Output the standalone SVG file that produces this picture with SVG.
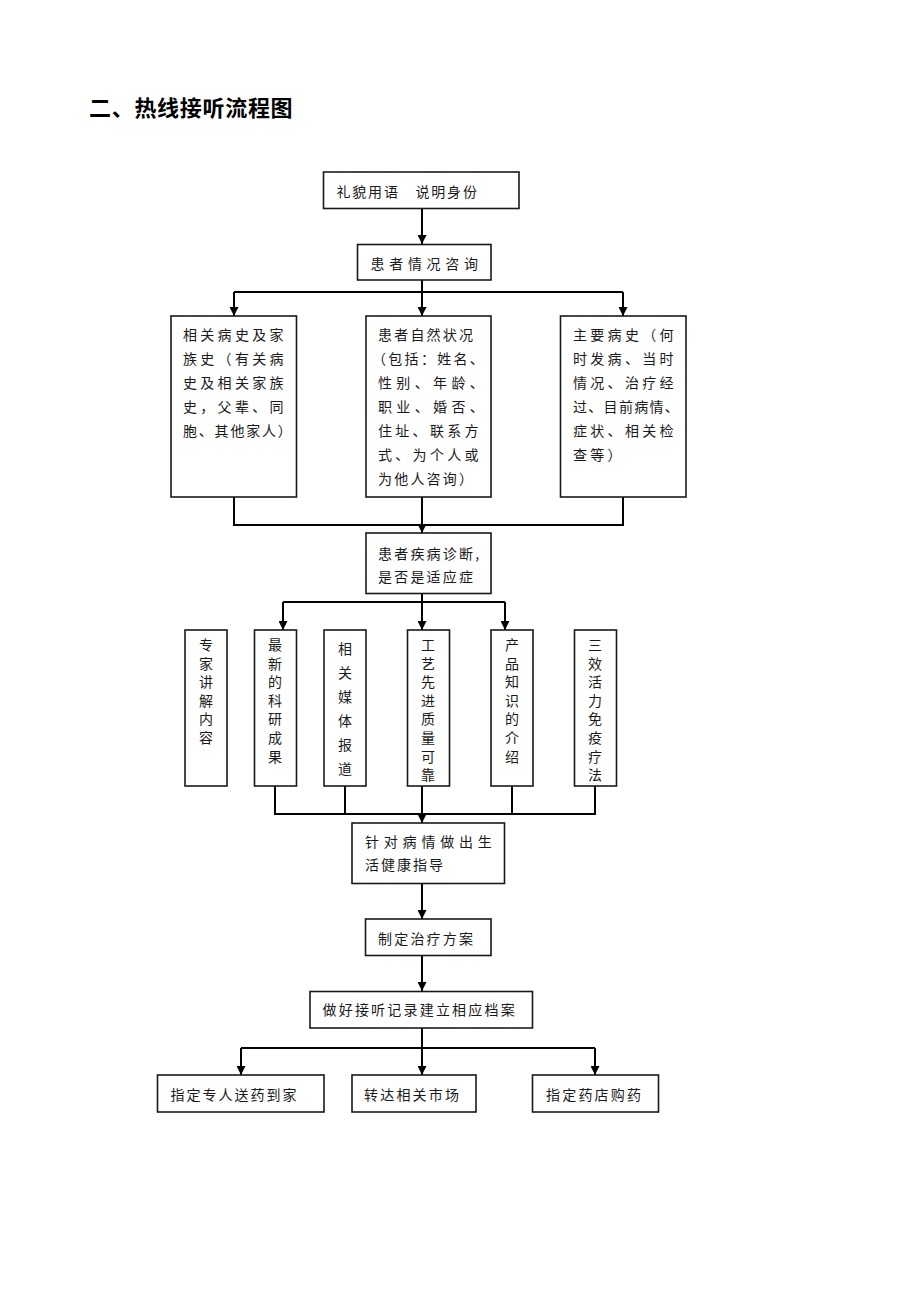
<svg xmlns="http://www.w3.org/2000/svg" width="920" height="1302" viewBox="0 0 920 1302">
<style>
  .bg{fill:#fff}
  .box{fill:#fff;stroke:#1a1a1a;stroke-width:1.6}
  .t{font-family:"Noto Sans CJK SC","Noto Sans CJK TC",sans-serif;font-size:14px;fill:#1a1a1a;letter-spacing:2.2px}
  .w{letter-spacing:3.3px}
  .vt{font-family:"Noto Sans CJK SC","Noto Sans CJK TC",sans-serif;font-size:14px;fill:#1a1a1a;text-anchor:middle}
  .title{font-family:"Noto Sans CJK SC","Noto Sans CJK TC",sans-serif;font-size:22px;font-weight:bold;fill:#000;letter-spacing:0.7px}
  .ln{fill:none;stroke:#000;stroke-width:2}
  .ar{fill:none;stroke:#000;stroke-width:2;marker-end:url(#ah)}
</style>
<defs>
  <marker id="ah" viewBox="0 0 10 10" refX="10" refY="5" markerWidth="9" markerHeight="9" markerUnits="userSpaceOnUse" orient="auto">
    <path d="M0,0 L10,5 L0,10 z" fill="#000"/>
  </marker>
</defs>
<rect class="bg" x="0" y="0" width="920" height="1302"/>
<text class="title" x="89" y="116">二、热线接听流程图</text>

<g id="connectors">
  <path class="ar" d="M422,208 V244"/>
  <path class="ar" d="M422,280 V316"/>
  <path class="ln" d="M234,292 H623"/>
  <path class="ar" d="M234,292 V316"/>
  <path class="ar" d="M623,292 V316"/>
  <path class="ln" d="M234,497 V525 H623 V497"/>
  <path class="ar" d="M422,497 V533"/>
  <path class="ar" d="M422,593 V630"/>
  <path class="ln" d="M283,602 H505"/>
  <path class="ar" d="M283,602 V630"/>
  <path class="ar" d="M505,602 V630"/>
  <path class="ln" d="M275,786 V814 H595 V786"/>
  <path class="ln" d="M345,786 V814"/>
  <path class="ln" d="M512,786 V814"/>
  <path class="ar" d="M422,786 V823"/>
  <path class="ar" d="M422,883 V919"/>
  <path class="ar" d="M422,955 V991"/>
  <path class="ar" d="M422,1028 V1075"/>
  <path class="ln" d="M241,1048 H595"/>
  <path class="ar" d="M241,1048 V1075"/>
  <path class="ar" d="M595,1048 V1075"/>
</g>

<g id="n1">
  <rect class="box" x="323.5" y="172" width="195.5" height="36.5"/>
  <text class="t" x="336.5" y="196.5" style="letter-spacing:1.8px">礼貌用语　说明身份</text>
</g>
<g id="n2">
  <rect class="box" x="357.5" y="244.5" width="133.5" height="35.5"/>
  <text class="t" x="370.5" y="269" style="letter-spacing:4.7px">患者情况咨询</text>
</g>
<g id="n3">
  <rect class="box" x="171" y="316" width="125.5" height="181"/>
  <text class="t w" x="183" y="340">相关病史及家</text>
  <text class="t w" x="183" y="364">族史（有关病</text>
  <text class="t w" x="183" y="388">史及相关家族</text>
  <text class="t w" x="183" y="412">史，父辈、同</text>
  <text class="t" x="183" y="436" textLength="111" lengthAdjust="spacing">胞、其他家人）</text>
</g>
<g id="n4">
  <rect class="box" x="366" y="316" width="125" height="181"/>
  <text class="t" x="378" y="340">患者自然状况</text>
  <text class="t" x="372" y="364" textLength="114" lengthAdjust="spacing">（包括：姓名、</text>
  <text class="t" x="378" y="388" textLength="108" lengthAdjust="spacing">性别、年龄、</text>
  <text class="t" x="378" y="412" textLength="108" lengthAdjust="spacing">职业、婚否、</text>
  <text class="t w" x="378" y="436">住址、联系方</text>
  <text class="t w" x="378" y="460">式、为个人或</text>
  <text class="t" x="378" y="484">为他人咨询）</text>
</g>
<g id="n5">
  <rect class="box" x="560.5" y="316" width="125.5" height="181"/>
  <text class="t w" x="573" y="340">主要病史（何</text>
  <text class="t w" x="573" y="364">时发病、当时</text>
  <text class="t w" x="573" y="388">情况、治疗经</text>
  <text class="t" x="573" y="412" textLength="108" lengthAdjust="spacing">过、目前病情、</text>
  <text class="t w" x="573" y="436">症状、相关检</text>
  <text class="t w" x="573" y="460">查等）</text>
</g>
<g id="n6">
  <rect class="box" x="366" y="533" width="125" height="60.5"/>
  <text class="t" x="378" y="558.5">患者疾病诊断,</text>
  <text class="t" x="378" y="582">是否是适应症</text>
</g>
<g id="n7">
  <rect class="box" x="185" y="630" width="42" height="156"/>
  <text class="vt"><tspan x="206" y="650">专</tspan><tspan x="206" dy="18.6">家</tspan><tspan x="206" dy="18.6">讲</tspan><tspan x="206" dy="18.6">解</tspan><tspan x="206" dy="18.6">内</tspan><tspan x="206" dy="18.6">容</tspan></text>
</g>
<g id="n8">
  <rect class="box" x="254.5" y="630" width="42" height="156"/>
  <text class="vt"><tspan x="275" y="650">最</tspan><tspan x="275" dy="18.6">新</tspan><tspan x="275" dy="18.6">的</tspan><tspan x="275" dy="18.6">科</tspan><tspan x="275" dy="18.6">研</tspan><tspan x="275" dy="18.6">成</tspan><tspan x="275" dy="18.6">果</tspan></text>
</g>
<g id="n9">
  <rect class="box" x="324" y="630" width="42" height="156"/>
  <text class="vt"><tspan x="345" y="654">相</tspan><tspan x="345" dy="24">关</tspan><tspan x="345" dy="24">媒</tspan><tspan x="345" dy="24">体</tspan><tspan x="345" dy="24">报</tspan><tspan x="345" dy="24">道</tspan></text>
</g>
<g id="n10">
  <rect class="box" x="407.5" y="630" width="42" height="156"/>
  <text class="vt"><tspan x="428" y="650">工</tspan><tspan x="428" dy="18.6">艺</tspan><tspan x="428" dy="18.6">先</tspan><tspan x="428" dy="18.6">进</tspan><tspan x="428" dy="18.6">质</tspan><tspan x="428" dy="18.6">量</tspan><tspan x="428" dy="18.6">可</tspan><tspan x="428" dy="18.6">靠</tspan></text>
</g>
<g id="n11">
  <rect class="box" x="491" y="630" width="42" height="156"/>
  <text class="vt"><tspan x="512" y="650">产</tspan><tspan x="512" dy="18.6">品</tspan><tspan x="512" dy="18.6">知</tspan><tspan x="512" dy="18.6">识</tspan><tspan x="512" dy="18.6">的</tspan><tspan x="512" dy="18.6">介</tspan><tspan x="512" dy="18.6">绍</tspan></text>
</g>
<g id="n12">
  <rect class="box" x="574.5" y="630" width="42" height="156"/>
  <text class="vt"><tspan x="595" y="650">三</tspan><tspan x="595" dy="18.6">效</tspan><tspan x="595" dy="18.6">活</tspan><tspan x="595" dy="18.6">力</tspan><tspan x="595" dy="18.6">免</tspan><tspan x="595" dy="18.6">疫</tspan><tspan x="595" dy="18.6">疗</tspan><tspan x="595" dy="18.6">法</tspan></text>
</g>
<g id="n13">
  <rect class="box" x="352" y="823" width="152.5" height="60.5"/>
  <text class="t" x="365" y="847" style="letter-spacing:4.8px">针对病情做出生</text>
  <text class="t" x="365" y="870" style="letter-spacing:2px">活健康指导</text>
</g>
<g id="n14">
  <rect class="box" x="365.5" y="919" width="125.5" height="36.5"/>
  <text class="t" x="378" y="943.5">制定治疗方案</text>
</g>
<g id="n15">
  <rect class="box" x="310" y="991.5" width="222.5" height="36.5"/>
  <text class="t" x="322.5" y="1015">做好接听记录建立相应档案</text>
</g>
<g id="n16">
  <rect class="box" x="157.5" y="1075" width="166.5" height="37"/>
  <text class="t" x="170.5" y="1100" style="letter-spacing:2px">指定专人送药到家</text>
</g>
<g id="n17">
  <rect class="box" x="352" y="1075" width="124" height="37"/>
  <text class="t" x="364" y="1100">转达相关市场</text>
</g>
<g id="n18">
  <rect class="box" x="532.5" y="1075" width="126" height="37"/>
  <text class="t" x="546" y="1100">指定药店购药</text>
</g>
</svg>
